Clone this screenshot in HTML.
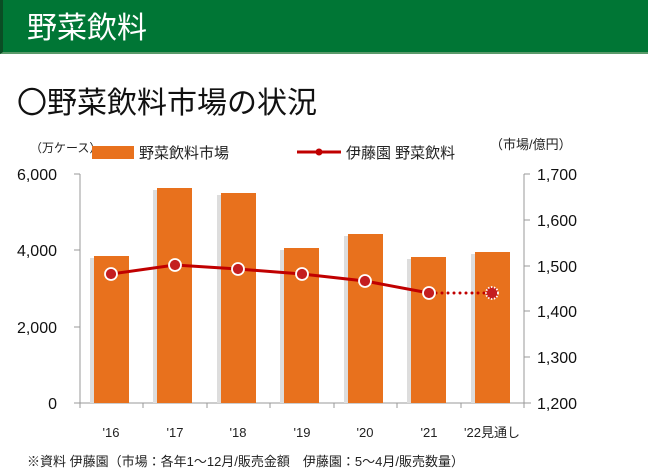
<!DOCTYPE html>
<html><head><meta charset="utf-8"><style>
body{margin:0;width:648px;height:475px;background:#fff;overflow:hidden;font-family:"Liberation Sans","Noto Sans CJK JP",sans-serif;}
.hdr{position:absolute;left:0;top:0;width:648px;height:54px;background:#007635;border-left:3px solid #0a4d24;box-sizing:border-box;border-bottom:2px solid #5a9a6a}
</style></head><body>
<div class="hdr"></div>
<svg width="648" height="475" style="position:absolute;left:0;top:0" font-family="Liberation Sans, Noto Sans CJK JP, sans-serif">
<text x="27" y="38" font-size="30" fill="#fff">野菜飲料</text>
<text x="17" y="113" font-size="30" fill="#111">〇野菜飲料市場の状況</text>
<text x="30" y="152" font-size="12" fill="#222">（万ケース）</text>
<rect x="92" y="146" width="42" height="13" fill="#e8711d"/>
<text x="139" y="158" font-size="15" fill="#222">野菜飲料市場</text>
<line x1="297" y1="152" x2="341" y2="152" stroke="#c00000" stroke-width="3"/>
<circle cx="319" cy="152" r="3.5" fill="#c00000"/>
<text x="346" y="158" font-size="15" fill="#222">伊藤園 野菜飲料</text>
<text x="490" y="149" font-size="13" fill="#222">（市場/億円）</text>
<g font-size="16" fill="#111">
<text x="57" y="180" text-anchor="end">6,000</text>
<text x="57" y="256" text-anchor="end">4,000</text>
<text x="57" y="333" text-anchor="end">2,000</text>
<text x="57" y="409" text-anchor="end">0</text>
<text x="537" y="180">1,700</text>
<text x="537" y="226">1,600</text>
<text x="537" y="272">1,500</text>
<text x="537" y="317">1,400</text>
<text x="537" y="363">1,300</text>
<text x="537" y="409">1,200</text>
</g>
<g stroke="#999" stroke-width="1">
<line x1="74" y1="403" x2="531" y2="403"/>
<line x1="80" y1="174" x2="80" y2="403"/>
<line x1="524" y1="174" x2="524" y2="403"/>
<line x1="74" y1="174" x2="80" y2="174"/><line x1="74" y1="250" x2="80" y2="250"/><line x1="74" y1="327" x2="80" y2="327"/>
<line x1="524" y1="174" x2="530" y2="174"/><line x1="524" y1="220" x2="530" y2="220"/><line x1="524" y1="266" x2="530" y2="266"/>
<line x1="524" y1="311" x2="530" y2="311"/><line x1="524" y1="357" x2="530" y2="357"/>
<line x1="143" y1="403" x2="143" y2="408"/><line x1="207" y1="403" x2="207" y2="408"/>
<line x1="270" y1="403" x2="270" y2="408"/><line x1="334" y1="403" x2="334" y2="408"/>
<line x1="397" y1="403" x2="397" y2="408"/><line x1="461" y1="403" x2="461" y2="408"/>
<line x1="80" y1="403" x2="80" y2="408"/><line x1="524" y1="403" x2="524" y2="408"/>
</g>
<g fill="#ddd">
<rect x="90" y="258" width="4" height="145"/><rect x="153" y="190" width="4" height="213"/>
<rect x="217" y="195" width="4" height="208"/><rect x="280" y="250" width="4" height="153"/>
<rect x="344" y="236" width="4" height="167"/><rect x="407" y="259" width="4" height="144"/>
<rect x="471" y="254" width="4" height="149"/>
</g>
<g fill="#e8711d">
<rect x="94" y="256" width="35" height="147"/><rect x="157" y="188" width="35" height="215"/>
<rect x="221" y="193" width="35" height="210"/><rect x="284" y="248" width="35" height="155"/>
<rect x="348" y="234" width="35" height="169"/><rect x="411" y="257" width="35" height="146"/>
<rect x="475" y="252" width="35" height="151"/>
</g>
<polyline points="111,274 175,265 238,269 302,274 365,281 429,293" fill="none" stroke="#c00000" stroke-width="3"/>
<line x1="436" y1="293" x2="486" y2="293" stroke="#c00000" stroke-width="3" stroke-linecap="round" stroke-dasharray="0,6"/>
<g fill="#c41e20" stroke="#fff" stroke-width="1.8">
<circle cx="111" cy="274" r="6"/><circle cx="175" cy="265" r="6"/><circle cx="238" cy="269" r="6"/>
<circle cx="302" cy="274" r="6"/><circle cx="365" cy="281" r="6"/><circle cx="429" cy="293" r="6"/>
<circle cx="492" cy="293" r="6" stroke-dasharray="1.5,1.5"/>
</g>
<g font-size="13" fill="#222" text-anchor="middle">
<text x="111" y="437">'16</text><text x="175" y="437">'17</text><text x="238" y="437">'18</text>
<text x="302" y="437">'19</text><text x="365" y="437">'20</text><text x="429" y="437">'21</text>
<text x="492" y="437">'22見通し</text>
</g>
<text x="27" y="466" font-size="13" fill="#222">※資料 伊藤園（市場：各年1～12月/販売金額　伊藤園：5～4月/販売数量）</text>
</svg>
</body></html>
